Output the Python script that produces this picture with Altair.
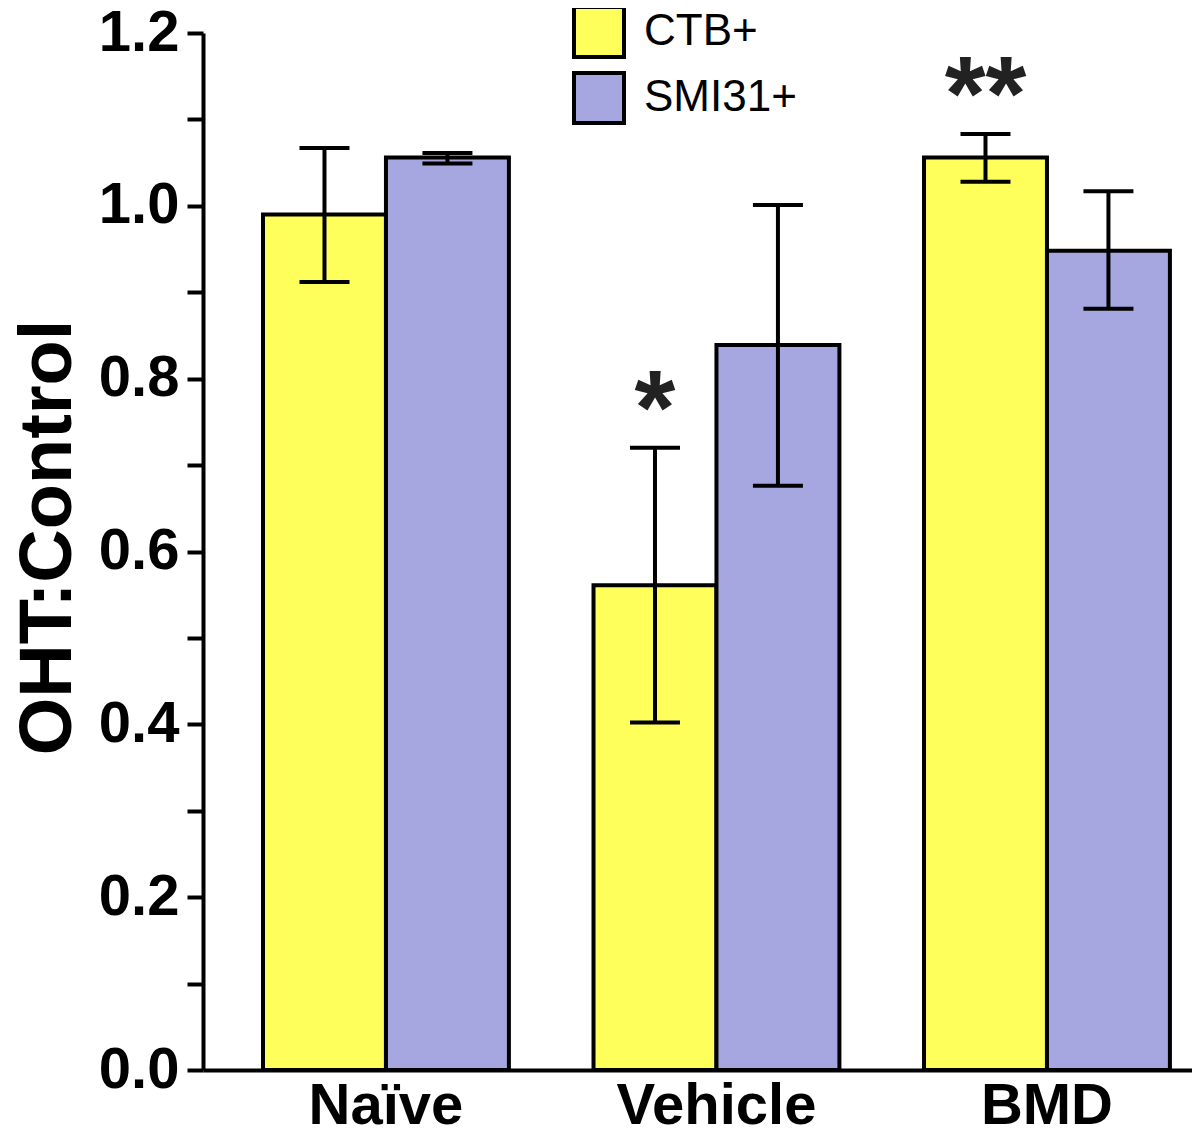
import altair as alt
import pandas as pd

groups = ["Naïve", "Vehicle", "BMD"]
series = ["CTB+", "SMI31+"]
colors = ["#FFFF5C", "#A6A6E0"]

ctb_mean = [0.990, 0.561, 1.056]
ctb_upper = [1.067, 0.720, 1.083]
ctb_lower = [0.912, 0.402, 1.028]
smi_mean = [1.056, 0.839, 0.948]
smi_upper = [1.061, 1.001, 1.017]
smi_lower = [1.049, 0.676, 0.881]

star_groups = ["Vehicle", "BMD"]
star_text = ["*", "**"]

y_ticks = [0.0, 0.1, 0.2, 0.3, 0.4, 0.5, 0.6, 0.7, 0.8, 0.9, 1.0, 1.1, 1.2]

rows = []
for i, g in enumerate(groups):
    rows.append({"group": g, "series": "CTB+", "mean": ctb_mean[i], "upper": ctb_upper[i], "lower": ctb_lower[i]})
    rows.append({"group": g, "series": "SMI31+", "mean": smi_mean[i], "upper": smi_upper[i], "lower": smi_lower[i]})
df = pd.DataFrame(rows)

stars = pd.DataFrame({
    "group": star_groups,
    "series": ["CTB+", "CTB+"],
    "text": star_text,
    "upper": [ctb_upper[groups.index(g)] for g in star_groups],
})

FONT = "Liberation Sans"

x_enc = alt.X(
    "group:N", sort=groups,
    scale=alt.Scale(paddingInner=0.256, paddingOuter=0.1242, align=0.731, round=False),
    axis=alt.Axis(title=None, labelAngle=0, labelFont=FONT, labelFontWeight="bold",
                  labelFontSize=58, labelColor="black", labelPadding=7, labelLimit=0,
                  ticks=False, tickSize=0, domainColor="black", domainWidth=4, grid=False),
)
xo_enc = alt.XOffset("series:N", sort=series, scale=alt.Scale(paddingInner=0, paddingOuter=0))
y_scale = alt.Scale(domain=[0, 1.2], nice=False, zero=True)

bars = alt.Chart(df).mark_bar(stroke="black", strokeWidth=4, opacity=1).encode(
    x=x_enc,
    xOffset=xo_enc,
    y=alt.Y("mean:Q", scale=y_scale,
            axis=alt.Axis(title="OHT:Control", values=y_ticks,
                          labelExpr="(round(datum.value*10) % 2 == 0) ? format(datum.value, '.1f') : ''",
                          labelFont=FONT, labelFontWeight="bold", labelFontSize=58, labelColor="black",
                          labelPadding=8, tickSize=16, tickWidth=4, tickColor="black",
                          domainColor="black", domainWidth=4, grid=False,
                          titleFont=FONT, titleFontWeight="bold", titleFontSize=74, titleColor="black",
                          titlePadding=12, titleY=504)),
    fill=alt.Fill("series:N", sort=series, scale=alt.Scale(domain=series, range=colors),
                  legend=alt.Legend(title=None, orient="none", legendX=369, legendY=-28,
                                    symbolType="square", symbolSize=2500, symbolStrokeColor="black",
                                    symbolStrokeWidth=4, symbolOpacity=1, labelFont=FONT,
                                    labelFontSize=44, labelColor="black", labelOffset=18,
                                    rowPadding=0, padding=0)),
)

rules = alt.Chart(df).mark_rule(color="black", strokeWidth=4).encode(
    x=x_enc, xOffset=xo_enc, y=alt.Y("lower:Q", scale=y_scale), y2="upper:Q",
)
caps_top = alt.Chart(df).mark_tick(color="black", thickness=4, size=50, opacity=1).encode(
    x=x_enc, xOffset=xo_enc, y=alt.Y("upper:Q", scale=y_scale),
)
caps_bot = alt.Chart(df).mark_tick(color="black", thickness=4, size=50, opacity=1).encode(
    x=x_enc, xOffset=xo_enc, y=alt.Y("lower:Q", scale=y_scale),
)
star_marks = alt.Chart(stars).mark_text(font=FONT, fontWeight="bold", fontSize=105,
                                        color="#222222", baseline="alphabetic", dy=-4).encode(
    x=x_enc, xOffset=xo_enc, y=alt.Y("upper:Q", scale=y_scale), text="text:N",
)

chart = alt.layer(bars, rules, caps_top, caps_bot, star_marks).properties(
    width=989, height=1037,
    autosize=alt.AutoSizeParams(type="none"),
    padding={"left": 195, "top": 25, "right": 0, "bottom": 60},
    background="white",
).configure_view(stroke=None).configure_axis(grid=False)

chart.save("out.html", embed_options={"renderer": "svg", "actions": False})
